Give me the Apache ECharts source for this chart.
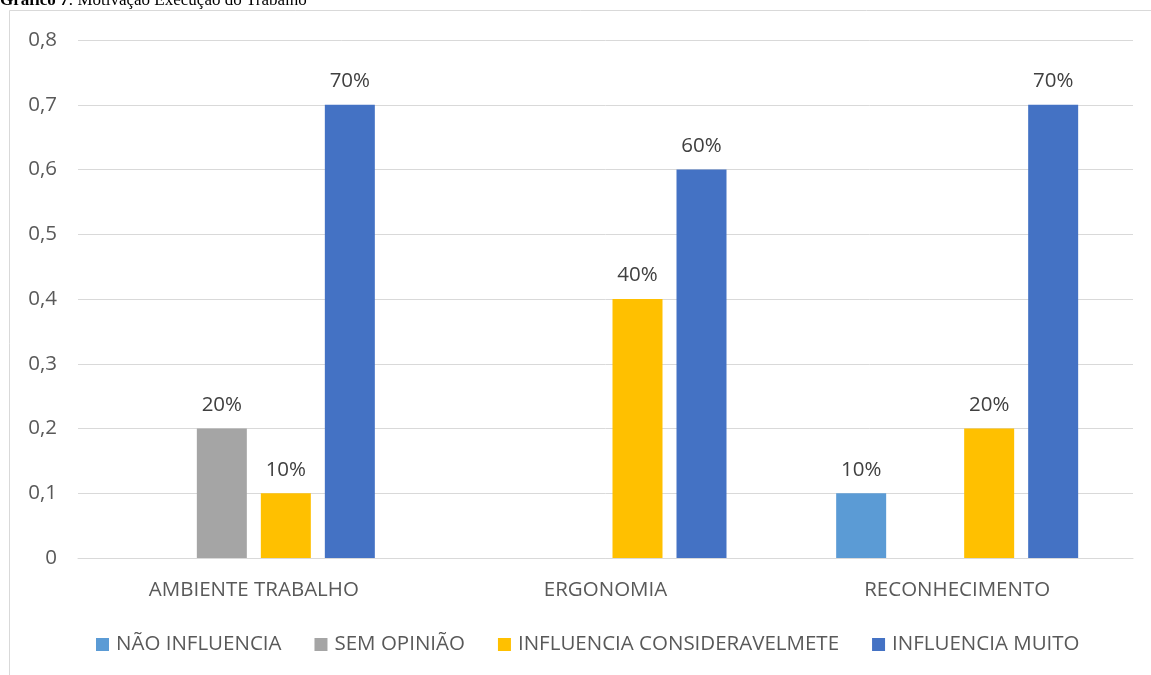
<!DOCTYPE html>
<html>
<head>
<meta charset="utf-8">
<script src="https://cdn.jsdelivr.net/npm/echarts@6/dist/echarts.min.js"></script>
<style>
html,body{margin:0;padding:0;background:#fff;}
#chart{width:1151px;height:675px;}
</style>
</head>
<body>
<div id="chart"></div>
<script>
const categories = ['AMBIENTE TRABALHO', 'ERGONOMIA', 'RECONHECIMENTO'];
const seriesNames = ['NÃO INFLUENCIA', 'SEM OPINIÃO', 'INFLUENCIA CONSIDERAVELMETE', 'INFLUENCIA MUITO'];
const naoInfluencia = [null, null, 0.1];
const semOpiniao = [0.2, null, null];
const influenciaConsideravelmente = [0.1, 0.4, 0.2];
const influenciaMuito = [0.7, 0.6, 0.7];
const colors = ['#5B9BD5', '#A5A5A5', '#FFC000', '#4472C4'];
const titleBold = 'Gráfico 7';
const titleRest = ': Motivação Execução do Trabalho';

const font = '"Open Sans", "Noto Sans", sans-serif';
const textColor = '#595959';
const fs = 20.5;
const values = [naoInfluencia, semOpiniao, influenciaConsideravelmente, influenciaMuito];

const chart = echarts.init(document.getElementById('chart'), null, {renderer: 'canvas'});
chart.setOption({
  animation: false,
  backgroundColor: '#fff',
  graphic: [
    {
      type: 'rect',
      shape: {x: 9.5, y: 10.5, width: 1200, height: 700},
      style: {fill: 'none', stroke: '#D9D9D9', lineWidth: 1},
      z: -1
    },
    {
      type: 'text',
      left: 0,
      top: -8,
      style: {
        text: '{b|' + titleBold + '}{n|' + titleRest + '}',
        rich: {
          b: {fontFamily: '"Liberation Serif", serif', fontWeight: 'bold', fontSize: 17, fill: '#000'},
          n: {fontFamily: '"Liberation Serif", serif', fontSize: 17, fill: '#000'}
        }
      }
    }
  ],
  grid: {left: 78, right: 18, top: 40, bottom: 117, containLabel: false},
  legend: {
    data: seriesNames,
    bottom: 15,
    left: 91,
    itemWidth: 13,
    itemHeight: 13,
    itemGap: 33,
    icon: 'rect',
    textStyle: {color: textColor, fontFamily: font, fontSize: fs, padding: [0, 0, 0, 2]}
  },
  xAxis: {
    type: 'category',
    data: categories,
    axisLine: {lineStyle: {color: '#D9D9D9'}},
    axisTick: {show: false},
    axisLabel: {color: textColor, fontFamily: font, fontSize: fs, margin: 22}
  },
  yAxis: {
    type: 'value',
    min: 0,
    max: 0.8,
    interval: 0.1,
    axisLine: {show: false},
    axisTick: {show: false},
    splitLine: {lineStyle: {color: '#D9D9D9'}},
    axisLabel: {
      color: textColor, fontFamily: font, fontSize: fs, margin: 21,
      formatter: v => v === 0 ? '0' : v.toFixed(1).replace('.', ',')
    }
  },
  series: seriesNames.map((name, i) => ({
    name: name,
    type: 'bar',
    data: values[i],
    barWidth: 50,
    barGap: '28%',
    itemStyle: {color: colors[i]},
    label: {
      show: true,
      position: 'top',
      distance: 13,
      color: '#404040',
      fontFamily: font,
      fontSize: fs,
      formatter: p => p.value == null ? '' : Math.round(p.value * 100) + '%'
    }
  }))
});
</script>
</body>
</html>
